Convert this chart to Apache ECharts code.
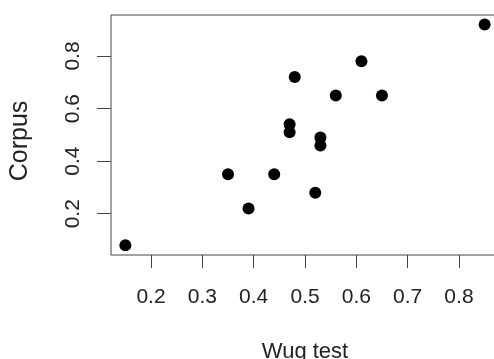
<!DOCTYPE html>
<html>
<head>
<meta charset="utf-8">
<script src="https://cdn.jsdelivr.net/npm/echarts@6/dist/echarts.min.js"></script>
<style>
html,body{margin:0;padding:0;background:#fff;}
#chart{width:494px;height:359px;}
</style>
</head>
<body>
<div id="chart"></div>
<script>
var wugTest = [0.15, 0.35, 0.39, 0.44, 0.47, 0.47, 0.48, 0.52, 0.53, 0.53, 0.56, 0.61, 0.65, 0.85];
var corpus  = [0.08, 0.35, 0.22, 0.35, 0.54, 0.51, 0.72, 0.28, 0.49, 0.46, 0.65, 0.78, 0.65, 0.92];
var xTicks = [0.2, 0.3, 0.4, 0.5, 0.6, 0.7, 0.8];
var yTicks = [0.2, 0.4, 0.6, 0.8];
var xTitle = 'Wug test';
var yTitle = 'Corpus';

var points = wugTest.map(function (x, i) { return [x, corpus[i]]; });
var font = 'Liberation Sans, Arial, Helvetica, sans-serif';

var chart = echarts.init(document.getElementById('chart'), null, {renderer: 'canvas'});
chart.setOption({
  animation: false,
  backgroundColor: '#fff',
  grid: {
    left: 111, top: 15, width: 388, height: 240,
    containLabel: false, outerBoundsMode: 'none',
    show: true, borderColor: '#444', borderWidth: 1, backgroundColor: 'transparent'
  },
  xAxis: {
    type: 'value', min: 0.122, max: 0.878,
    name: xTitle, nameLocation: 'middle', nameGap: 86,
    nameTextStyle: {fontFamily: font, fontSize: 22, color: '#222'},
    axisLine: {show: false},
    splitLine: {show: false},
    axisTick: {show: true, inside: false, length: 13, customValues: xTicks,
               lineStyle: {color: '#444', width: 1}},
    axisLabel: {customValues: xTicks, margin: 32, fontFamily: font, fontSize: 21, color: '#222',
                formatter: function (v) { return String(Math.round(v * 10) / 10); }}
  },
  yAxis: {
    type: 'value', min: 0.043, max: 0.956,
    name: yTitle, nameLocation: 'middle', nameGap: 78, nameRotate: 90,
    nameTextStyle: {fontFamily: font, fontSize: 25, color: '#222', padding: [0, 12, 0, 0]},
    axisLine: {show: false},
    splitLine: {show: false},
    axisTick: {show: true, inside: false, length: 14, customValues: yTicks,
               lineStyle: {color: '#444', width: 1}},
    axisLabel: {customValues: yTicks, rotate: 90, margin: 27, fontFamily: font, fontSize: 21, color: '#222',
                formatter: function (v) { return String(Math.round(v * 10) / 10); }}
  },
  series: [{
    type: 'scatter',
    data: points,
    symbol: 'circle',
    symbolSize: 12,
    itemStyle: {color: '#000', opacity: 1},
    emphasis: {disabled: true}
  }]
});
</script>
</body>
</html>
